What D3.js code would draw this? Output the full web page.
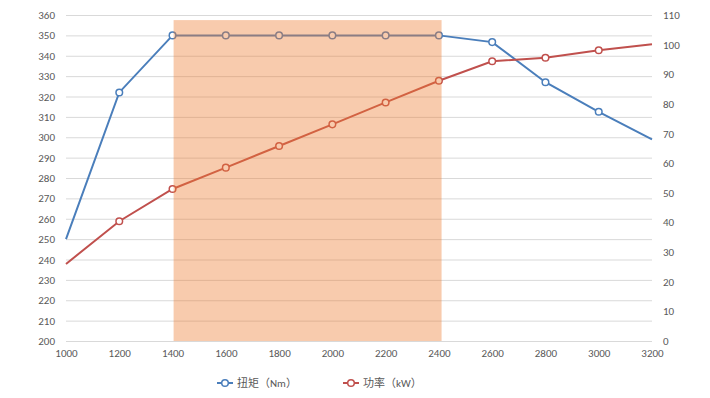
<!DOCTYPE html>
<html><head><meta charset="utf-8">
<script src="https://cdn.jsdelivr.net/npm/d3@7"></script>
<style>body{margin:0;background:#fff}svg{display:block}text{font-family:Calibri,"Liberation Sans","Noto Sans CJK SC",sans-serif}</style>
</head><body>
<script>
const rpm = [1000,1200,1400,1600,1800,2000,2200,2400,2600,2800,3000,3200];
const torque = [250,322,350,350,350,350,350,350,346.7,327,312.5,299];
const power = [26,40.4,51.3,58.5,65.8,73.1,80.5,87.8,94.4,95.6,98.1,100.1];
const leftTicks = d3.range(200,361,10);
const rightTicks = d3.range(0,111,10);
const shadeRange = [1404,2410];
const shadeTopValue = 357.5;
const seriesNames = ["扭矩（Nm）","功率（kW）"];

const W=710,H=398;
const svg=d3.select("body").append("svg").attr("width",W).attr("height",H);
const x=d3.scaleLinear().domain([1000,3200]).range([66,652]);
const yL=d3.scaleLinear().domain([200,360]).range([341,15]);
const yR=d3.scaleLinear().domain([0,110]).range([341,15]);
const txt="#595959", fs=11;

// gridlines
svg.append("g").selectAll("line").data(leftTicks).join("line")
  .attr("x1",66).attr("x2",652).attr("y1",d=>yL(d)+0.5).attr("y2",d=>yL(d)+0.5)
  .attr("stroke","#d9d9d9").attr("stroke-width",1);

// left axis labels
const gl=svg.append("g").attr("transform","translate(55,0)").call(d3.axisLeft(yL).tickValues(leftTicks).tickSize(0).tickPadding(0));
gl.select(".domain").remove();
gl.selectAll("text").attr("fill",txt).style("font-size",fs+"px");
// right axis labels
const gr=svg.append("g").attr("transform","translate(663,0)").call(d3.axisRight(yR).tickValues(rightTicks).tickSize(0).tickPadding(0));
gr.select(".domain").remove();
gr.selectAll("text").attr("fill",txt).style("font-size",fs+"px");
// bottom axis labels
const gb=svg.append("g").attr("transform","translate(0,349)").call(d3.axisBottom(x).tickValues(rpm).tickSize(0).tickPadding(0).tickFormat(d3.format("d")));
gb.select(".domain").remove();
gb.selectAll("text").attr("fill",txt).style("font-size",fs+"px");

const col={t:"#4a7ebb",p:"#c0504d"};
function series(vals,y,c){
  svg.append("path").datum(vals).attr("fill","none").attr("stroke",c).attr("stroke-width",2)
    .attr("d",d3.line().x((d,i)=>x(rpm[i])).y(d=>y(d)));
  svg.append("g").selectAll("circle").data(vals).join("circle")
    .filter((d,i)=>i>0 && i<vals.length-1)
    .attr("cx",(d,i)=>x(rpm[vals.indexOf(d)===i?i:i])).attr("cy",d=>y(d));
}
function draw(vals,y,c){
  svg.append("path").datum(vals).attr("fill","none").attr("stroke",c).attr("stroke-width",2)
    .attr("d",d3.line().x((d,i)=>x(rpm[i])).y(d=>y(d)));
  const pts=vals.map((v,i)=>({v,i})).filter(o=>o.i>0&&o.i<vals.length-1);
  svg.append("g").selectAll("circle").data(pts).join("circle")
    .attr("cx",o=>x(rpm[o.i])).attr("cy",o=>y(o.v)).attr("r",3.3)
    .attr("fill","#fff").attr("stroke",c).attr("stroke-width",1.5);
}
draw(torque,yL,col.t);
draw(power,yR,col.p);

// shade overlay
svg.append("rect").attr("x",x(shadeRange[0])).attr("width",x(shadeRange[1])-x(shadeRange[0]))
  .attr("y",yL(shadeTopValue)).attr("height",341-yL(shadeTopValue))
  .attr("fill","rgb(237,125,49)").attr("fill-opacity",0.4);

// legend
const lg=svg.append("g");
const lx=[217,343];
[col.t,col.p].forEach((c,i)=>{
  const g=lg.append("g").attr("transform",`translate(${lx[i]},383)`);
  g.append("line").attr("x1",0).attr("x2",16).attr("stroke",c).attr("stroke-width",2);
  g.append("circle").attr("cx",8).attr("r",3.3).attr("fill","#fff").attr("stroke",c).attr("stroke-width",1.5);
  g.append("text").attr("x",20).attr("dy","0.35em").attr("fill",txt).style("font-size",fs+"px").text(seriesNames[i]);
});
</script>
</body></html>
